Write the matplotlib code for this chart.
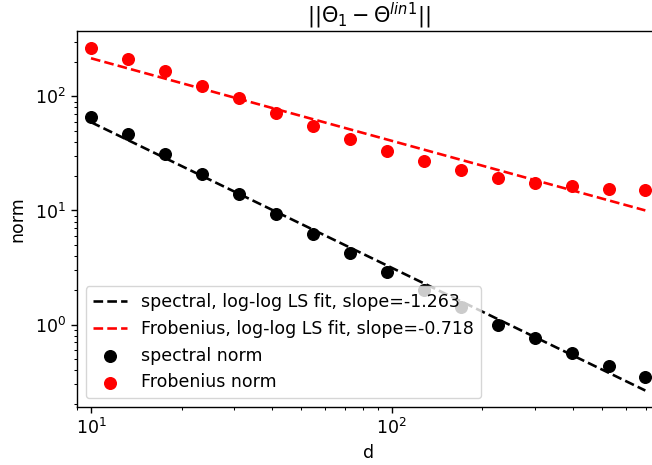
import numpy as np
import matplotlib
matplotlib.use("Agg")
import matplotlib.pyplot as plt

d_values = [10, 13.3, 17.6, 23.4, 31.0, 41.2, 54.7, 72.5, 96.3, 127.8, 169.6, 225.1, 298.7, 396.5, 526.2, 697]
spectral_norm = [65.9, 47.0, 31.2, 20.9, 13.95, 9.32, 6.19, 4.22, 2.88, 2.01, 1.44, 0.994, 0.760, 0.562, 0.432, 0.345]
frobenius_norm = [263.2, 210.9, 165.5, 122.3, 96.0, 70.7, 55.3, 42.0, 33.0, 27.0, 22.4, 19.4, 17.5, 16.3, 15.5, 15.1]
slope_labels = ["-1.263", "-0.718"]

d = np.array(d_values)
sp = np.array(spectral_norm)
fr = np.array(frobenius_norm)

k = 1.25
plt.rcParams.update({
    'font.size': 10 * k,
    'axes.linewidth': 0.8 * k,
    'xtick.major.size': 3.5 * k, 'ytick.major.size': 3.5 * k,
    'xtick.minor.size': 2 * k, 'ytick.minor.size': 2 * k,
    'xtick.major.width': 0.8 * k, 'ytick.major.width': 0.8 * k,
    'xtick.minor.width': 0.6 * k, 'ytick.minor.width': 0.6 * k,
})

fig = plt.figure(figsize=(6.52, 4.65), dpi=100)
ax = fig.add_axes([77/652, 58/465, (660-77)/652, 376/465])

ld = np.log10(d)
p_sp = np.polyfit(ld, np.log10(sp), 1)
p_fr = np.polyfit(ld, np.log10(fr), 1)

ax.plot(d, 10**np.polyval(p_sp, ld), 'k--', lw=1.5 * k,
        label=f"spectral, log-log LS fit, slope={slope_labels[0]}")
ax.plot(d, 10**np.polyval(p_fr, ld), 'r--', lw=1.5 * k,
        label=f"Frobenius, log-log LS fit, slope={slope_labels[1]}")
ax.scatter(d, sp, color='k', s=70, label="spectral norm")
ax.scatter(d, fr, color='r', s=70, label="Frobenius norm")

ax.set_xscale('log')
ax.set_yscale('log')
ax.set_xlim(10**(1-0.0466), 10**2.892)
ax.set_ylim(0.190, 373)
ax.set_xlabel('d')
ax.set_ylabel('norm', labelpad=6)
ax.set_title(r'$||\Theta_1 - \Theta^{lin1}||$', pad=4)
ax.legend(loc='lower left')

fig.savefig('out.png', dpi=100)
